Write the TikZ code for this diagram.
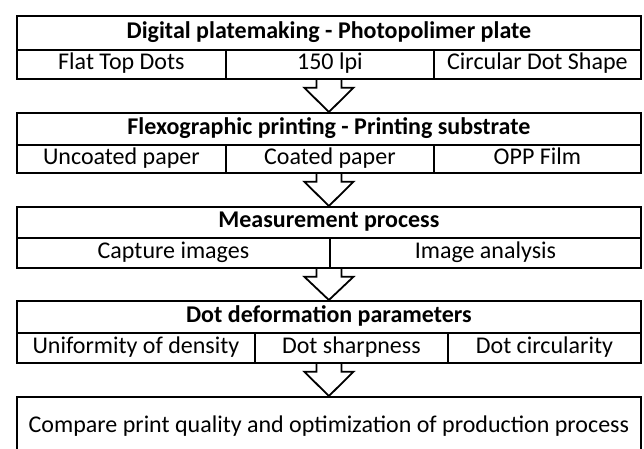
\documentclass[tikz,border=0pt]{standalone}
\usepackage{fontspec}
\setmainfont{Carlito}
\usetikzlibrary{calc}

% hollow arrow from the bottom of one stage to the top of the next
\newcommand{\flowarrow}[2]{%
  \draw[flow arrow] ($(#1.south)+(-12.5,0)$) -- ++(0,8) -- ++(-12,0)
    -- (#2.north) -- ($(#1.south)+(24.5,8)$) -- ++(-12,0) -- ++(0,-8);}

\begin{document}
\begin{tikzpicture}[x=1pt,y=-1pt,line width=1.8pt,
              font=\fontsize{24}{28}\selectfont,
              every node/.style={text height=16pt,text depth=5pt},
              stage/.style={draw,anchor=north west,minimum width=624pt,inner sep=0pt},
              title/.style={draw,anchor=north west,minimum width=624pt,inner sep=0pt,font=\fontsize{24}{28}\selectfont\bfseries},
              cell/.style={draw,anchor=north west,minimum height=29pt,inner sep=0pt},
              flow arrow/.style={draw,line join=miter}]
  \useasboundingbox (0,0) rectangle (644,448);

  % platemaking
  \node[stage,minimum height=63pt] (s1) at (16,15) {};
  \node[title,minimum height=34pt] (t1) at (16,15) {Digital platemaking - Photopolimer plate};
  \node[cell,minimum width=209pt] (c11) at (16,49) {Flat Top Dots};
  \node[cell,minimum width=208pt] (c12) at (225,49) {150 lpi};
  \node[cell,minimum width=207pt] (c13) at (433,49) {Circular Dot Shape};

  % printing
  \node[stage,minimum height=60pt] (s2) at (16,112) {};
  \node[title,minimum height=32pt] (t2) at (16,112) {Flexographic printing - Printing substrate};
  \node[cell,minimum width=209pt,minimum height=28pt] (c21) at (16,144) {Uncoated paper};
  \node[cell,minimum width=208pt,minimum height=28pt] (c22) at (225,144) {Coated paper};
  \node[cell,minimum width=207pt,minimum height=28pt] (c23) at (433,144) {OPP Film};

  % measurement
  \node[stage,minimum height=61pt] (s3) at (16,206) {};
  \node[title,minimum height=31pt] (t3) at (16,206) {Measurement process};
  \node[cell,minimum width=313pt,minimum height=30pt] (c31) at (16,237) {Capture images};
  \node[cell,minimum width=311pt,minimum height=30pt] (c32) at (329,237) {Image analysis};

  % parameters
  \node[stage,minimum height=62pt] (s4) at (16,300) {};
  \node[title,minimum height=32pt] (t4) at (16,300) {Dot deformation parameters};
  \node[cell,minimum width=238pt,minimum height=30pt] (c41) at (16,332) {Uniformity of density};
  \node[cell,minimum width=193pt,minimum height=30pt] (c42) at (254,332) {Dot sharpness};
  \node[cell,minimum width=193pt,minimum height=30pt] (c43) at (447,332) {Dot circularity};

  % result
  \node[stage,minimum height=60pt] (s5) at (16,396) {Compare print quality and optimization of production process};

  \flowarrow{s1}{s2}
  \flowarrow{s2}{s3}
  \flowarrow{s3}{s4}
  \flowarrow{s4}{s5}
\end{tikzpicture}
\end{document}
